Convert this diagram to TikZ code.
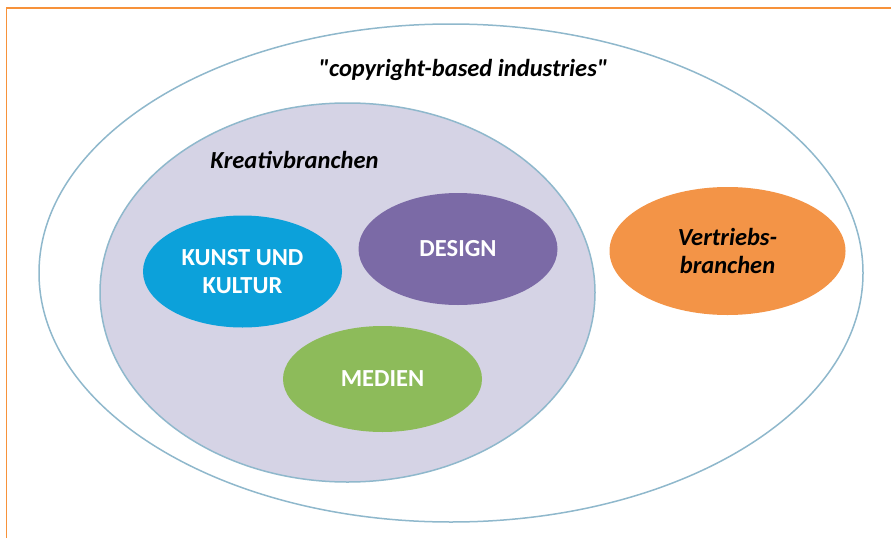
\documentclass[tikz,border=0pt]{standalone}
\usepackage{fontspec}
\setmainfont{Carlito}[Ligatures=TeXOff]
\usepackage{xcolor}
\usetikzlibrary{shapes.geometric}

\definecolor{frameorange}{RGB}{247,146,58}
\definecolor{rimblue}{RGB}{143,184,204}
\definecolor{lavender}{RGB}{213,211,229}
\definecolor{kunstblue}{RGB}{12,161,218}
\definecolor{designpurple}{RGB}{123,106,166}
\definecolor{mediengreen}{RGB}{141,187,90}
\definecolor{vertriebsorange}{RGB}{243,148,71}

\begin{document}
\begin{tikzpicture}[x=1pt, y=-1pt,
  ring/.style={ellipse, draw=rimblue, line width=1.5pt, inner sep=0pt},
  blob/.style={ellipse, inner sep=0pt, minimum width=199pt, minimum height=112pt,
    text=white, font=\fontsize{24.5}{28}\selectfont\bfseries, align=center},
  heading/.style={font=\fontsize{24.5}{28}\selectfont\bfseries\itshape, text=black, align=center}]
  \useasboundingbox (0,0) rectangle (891,538);
  % frame
  \draw[frameorange, line width=1.4pt] (6.5,538) -- (6.5,8) -- (891,8);
  % sets
  \node[ring, fill=white, minimum width=824pt, minimum height=498pt] (industries) at (451,273) {};
  \node[ring, fill=lavender, minimum width=495pt, minimum height=379pt] (kreativ) at (347.5,292.5) {};
  \node[blob, fill=kunstblue] (kunst) at (242.5,271.5) {KUNST UND\\KULTUR};
  \node[blob, fill=designpurple] (design) at (458,249) {DESIGN};
  \node[blob, fill=mediengreen, minimum height=106pt] (medien) at (382.5,379) {MEDIEN};
  \node[blob, fill=vertriebsorange, minimum width=236pt, minimum height=128pt,
    text=black, font=\fontsize{24.5}{28}\selectfont\bfseries\itshape] (vertrieb) at (727.5,251) {Vertriebs-\\branchen};
  % headings
  \node[heading] (industrieslabel) at (463,70) {"copyright-based industries"};
  \node[heading] (kreativlabel) at (294.5,160) {Kreativbranchen};
\end{tikzpicture}
\end{document}
